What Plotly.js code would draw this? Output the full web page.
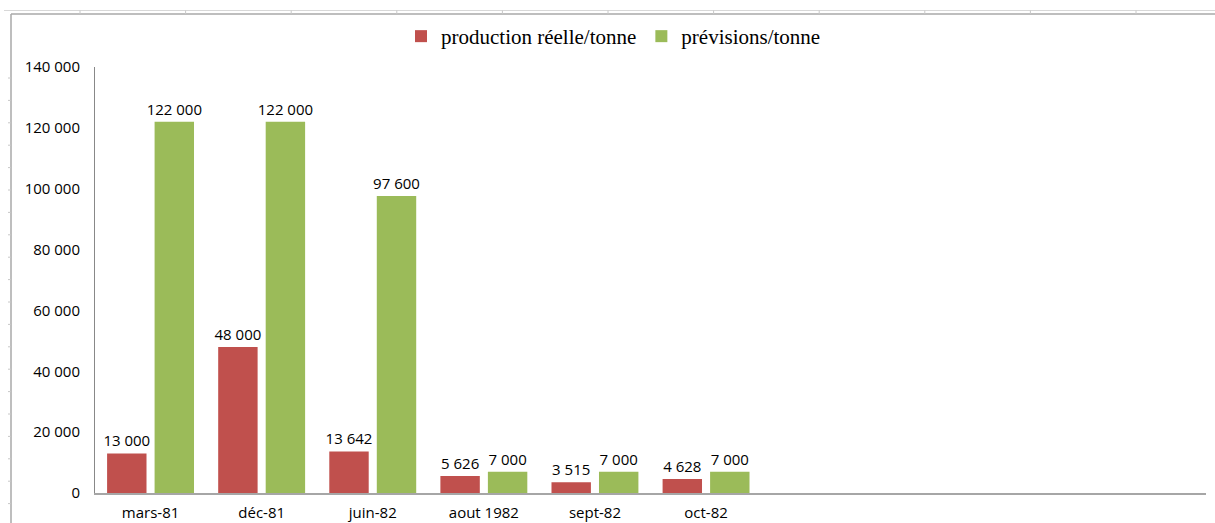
<!DOCTYPE html>
<html>
<head>
<meta charset="utf-8">
<script src="https://cdn.plot.ly/plotly-3.0.1.min.js"></script>
<style>html,body{margin:0;padding:0;background:#fff;}#chart{width:1215px;height:523px;}</style>
</head>
<body>
<div id="chart"></div>
<script>
const categories = ["mars-81", "déc-81", "juin-82", "aout 1982", "sept-82", "oct-82", "", "", "", ""];
const production = [13000, 48000, 13642, 5626, 3515, 4628];
const previsions = [122000, 122000, 97600, 7000, 7000, 7000];
const yTicks = [0, 20000, 40000, 60000, 80000, 100000, 120000, 140000];

const idx = categories.map((c, i) => i);
const xs = production.map((v, i) => i);

const labelFont = {family: "Open Sans, DejaVu Sans, sans-serif", size: 15, color: "#000"};

const traces = [
  {
    type: "bar", name: "production réelle/tonne",
    x: xs, y: production,
    marker: {color: "#C0504D"},
    texttemplate: "%{y:,d}", textposition: "outside", cliponaxis: false,
    constraintext: "none",
    textfont: labelFont, hoverinfo: "skip"
  },
  {
    type: "bar", name: "prévisions/tonne",
    x: xs, y: previsions,
    marker: {color: "#9BBB59"},
    texttemplate: "%{y:,d}", textposition: "outside", cliponaxis: false,
    constraintext: "none",
    textfont: labelFont, hoverinfo: "skip"
  }
];

// decorative frame of the surrounding page (not data)
const W = 1111, H = 426, L = 95, T = 67;
const px = v => (v - L) / W;
const py = v => 1 + (T - v) / H;
const shapes = [
  {type: "line", xref: "paper", yref: "paper", x0: px(4), x1: px(1215), y0: py(10.5), y1: py(10.5), line: {color: "#D8D8D8", width: 1}},
  {type: "line", xref: "paper", yref: "paper", x0: px(11), x1: px(1215), y0: py(14), y1: py(14), line: {color: "#A8A8A8", width: 1.5}},
  {type: "line", xref: "paper", yref: "paper", x0: px(11), x1: px(11), y0: py(14), y1: py(523), line: {color: "#A8A8A8", width: 1.5}}
];
for (let k = 0; k < 11; k++) {
  const xx = 80 + k * 105.6;
  shapes.push({type: "line", xref: "paper", yref: "paper", x0: px(xx), x1: px(xx), y0: py(10.5), y1: py(14), line: {color: "#C8C8C8", width: 1}});
}
for (let k = 0; k < 20; k++) {
  const yy = 78 + k * 22.4;
  shapes.push({type: "line", xref: "paper", yref: "paper", x0: px(8), x1: px(11), y0: py(yy), y1: py(yy), line: {color: "#C8C8C8", width: 1}});
}

const layout = {
  width: 1215, height: 523,
  margin: {l: 95, r: 9, t: 67, b: 30},
  paper_bgcolor: "#fff", plot_bgcolor: "#fff",
  separators: ", ",
  barmode: "group", bargap: 0.145, bargroupgap: 0.17,
  showlegend: true,
  legend: {
    orientation: "h", x: 0.5 + 6 / 1215, xanchor: "center", xref: "container",
    y: 1 - 16 / 523, yref: "container", yanchor: "top",
    font: {family: "Liberation Serif, serif", size: 21, color: "#000"},
    itemwidth: 30, bgcolor: "rgba(0,0,0,0)"
  },
  xaxis: {
    range: [-0.5, categories.length - 0.5],
    tickmode: "array", tickvals: idx, ticktext: categories,
    showgrid: false, zeroline: false,
    showline: true, linecolor: "#A6A6A6", linewidth: 2,
    ticks: "", tickfont: labelFont, ticklabelstandoff: 5
  },
  yaxis: {
    range: [0, 140000],
    tickmode: "array", tickvals: yTicks, tickformat: ",d",
    showgrid: false, zeroline: false,
    showline: true, linecolor: "#888888", linewidth: 1,
    ticks: "", tickfont: labelFont,
    ticklabelstandoff: 11
  },
  shapes: shapes
};

Plotly.newPlot("chart", traces, layout, {displayModeBar: false, staticPlot: true});
</script>
</body>
</html>
